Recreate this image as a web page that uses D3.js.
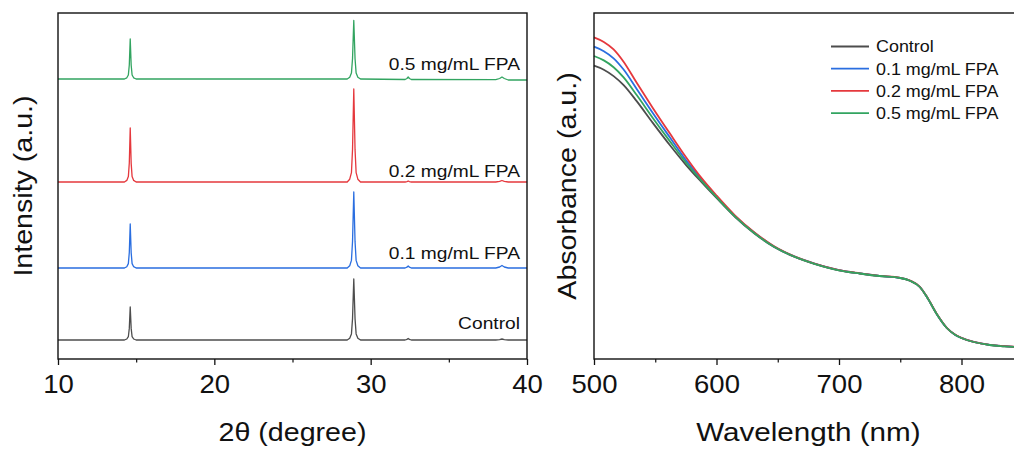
<!DOCTYPE html>
<html><head><meta charset="utf-8">
<script src="https://cdn.jsdelivr.net/npm/d3@7"></script>
<style>
html,body{margin:0;padding:0;background:#fff;}
text{font-family:"Liberation Sans",Arial,sans-serif;fill:#111;}
</style></head>
<body>
<svg id="chart" width="1014" height="450"></svg>
<script>
// ---------- Data: XRD (left) ----------
const seriesNames = ["Control", "0.1 mg/mL FPA", "0.2 mg/mL FPA", "0.5 mg/mL FPA"];
const seriesColors = ["#4d4d4d", "#2a6ee0", "#e5383d", "#32a460"];
const xrdTheta = [10, 14.25, 14.4, 14.5, 14.56, 14.62, 14.68, 14.74, 14.84, 15.0,
  28.5, 28.66, 28.77, 28.84, 28.92, 29.0, 29.07, 29.18, 29.35,
  32.2, 32.32, 32.4, 32.48, 32.6, 38.0, 38.25, 38.4, 38.55, 38.8, 40];
const xrdControl = [19, 19, 20, 22.3, 30.6, 52, 30.6, 22.3, 20, 19,
  19, 20.8, 25.1, 40.4, 80, 40.4, 25.1, 20.8, 19,
  19, 19.6, 20.5, 19.6, 19, 19, 19.4, 20, 19.4, 19, 19];
const xrd01 = [91, 91, 92.3, 95.4, 106.4, 135, 106.4, 95.4, 92.3, 91,
  91, 93.3, 98.6, 117.6, 167, 117.6, 98.6, 93.3, 91,
  91, 91.8, 93, 91.8, 91, 91, 92, 93.5, 92, 91, 91];
const xrd02 = [177, 177, 178.6, 182.4, 195.9, 231, 195.9, 182.4, 178.6, 177,
  177, 179.8, 186.3, 209.6, 270, 209.6, 186.3, 179.8, 177,
  177, 177.4, 178, 177.4, 177, 177, 177.6, 178.5, 177.6, 177, 177];
const xrd05 = [280, 280, 281.2, 284, 294, 320, 294, 284, 281.2, 280,
  280, 281.8, 285.9, 300.5, 338.5, 300.5, 285.9, 281.8, 280,
  279.5, 280.5, 282, 280.5, 279.5, 279.3, 280.5, 282, 280.5, 279, 279];
const xrdTicks = [10, 20, 30, 40];
const xrdMinor = [15, 25, 35];

// ---------- Data: Absorbance (right) ----------
const wl = [500, 508, 516, 524, 535, 548, 562, 575, 588, 600, 615, 631, 647, 664, 680,
  700, 717, 733, 750, 758, 766, 772, 780, 788, 795, 800, 810, 823, 835, 850];
const absControl = [2.933, 2.893, 2.829, 2.741, 2.576, 2.361, 2.137, 1.942, 1.766, 1.61, 1.422, 1.255, 1.12, 1.02, 0.952,
  0.887, 0.855, 0.83, 0.81, 0.782, 0.72, 0.615, 0.445, 0.31, 0.24, 0.21, 0.17, 0.14, 0.127, 0.115];
const abs01 = [3.123, 3.078, 3.007, 2.897, 2.698, 2.461, 2.215, 1.989, 1.793, 1.627, 1.432, 1.262, 1.125, 1.023, 0.953,
  0.888, 0.856, 0.831, 0.811, 0.783, 0.721, 0.616, 0.446, 0.311, 0.241, 0.211, 0.171, 0.141, 0.128, 0.116];
const abs02 = [3.217, 3.171, 3.096, 2.975, 2.759, 2.511, 2.254, 2.02, 1.806, 1.635, 1.437, 1.265, 1.127, 1.024, 0.954,
  0.889, 0.857, 0.832, 0.812, 0.784, 0.722, 0.617, 0.447, 0.312, 0.242, 0.212, 0.172, 0.142, 0.129, 0.117];
const abs05 = [3.03, 2.986, 2.918, 2.819, 2.637, 2.411, 2.176, 1.965, 1.779, 1.618, 1.427, 1.258, 1.122, 1.021, 0.952,
  0.887, 0.855, 0.83, 0.81, 0.782, 0.72, 0.615, 0.445, 0.31, 0.24, 0.21, 0.17, 0.14, 0.127, 0.115];
const wlTicks = [500, 600, 700, 800];
const wlMinor = [550, 650, 750, 850];

// ---------- Layout ----------
const svg = d3.select("#chart");
const plotTop = 13, plotBottom = 359;
const L = {x0: 58, x1: 527};
const R = {x0: 594};

const xL = d3.scaleLinear().domain([10, 40]).range([L.x0, L.x1]);
const yL = d3.scaleLinear().domain([0, 346]).range([plotBottom, plotTop]);
const xR = d3.scaleLinear().domain([500, 850]).range([R.x0, R.x0 + 350 * 1.225]);
const yR = d3.scaleLinear().domain([0, 3.46]).range([plotBottom, plotTop]);

function label(g, x, y, str, size, anchor, rot, sx) {
  return g.append("text")
    .attr("transform", `translate(${x},${y})` + (rot ? ` rotate(${rot})` : "") + ` scale(${sx},1)`)
    .attr("text-anchor", anchor)
    .attr("font-size", size)
    .text(str);
}

function drawAxis(scale, major, minor, fmt) {
  const g = svg.append("g").attr("transform", `translate(0,${plotBottom})`);
  g.call(d3.axisBottom(scale).tickValues(major).tickSize(6).tickSizeOuter(0).tickPadding(10).tickFormat(fmt))
    .call(s => s.select(".domain").remove());
  g.selectAll(".tick line").attr("stroke", "#111").attr("stroke-width", 1.3);
  g.selectAll(".tick text").attr("font-size", 25).attr("font-family", "Liberation Sans, Arial, sans-serif")
    .attr("fill", "#111").attr("transform", "scale(1.1,1)");
  const m = svg.append("g").attr("transform", `translate(0,${plotBottom})`);
  m.call(d3.axisBottom(scale).tickValues(minor).tickSize(3.5).tickFormat(""))
    .call(s => s.select(".domain").remove());
  m.selectAll(".tick line").attr("stroke", "#111").attr("stroke-width", 1.2);
}

// ---------- Left panel ----------
const xrdSeries = [xrdControl, xrd01, xrd02, xrd05];
const lineL = d3.line().x((d, i) => xL(xrdTheta[i])).y(d => yL(d));
xrdSeries.forEach((s, k) => {
  svg.append("path").datum(s).attr("d", lineL)
    .attr("fill", "none").attr("stroke", seriesColors[k]).attr("stroke-width", 1.3)
    .attr("stroke-linejoin", "round");
});
svg.append("rect").attr("x", L.x0).attr("y", plotTop).attr("width", L.x1 - L.x0).attr("height", plotBottom - plotTop)
  .attr("fill", "none").attr("stroke", "#111").attr("stroke-width", 1.4);
drawAxis(xL, xrdTicks, xrdMinor, d3.format("d"));
const labelOffsets = [11, 9, 5, 9];
xrdSeries.forEach((s, k) => {
  label(svg, 520, yL(s[0]) - labelOffsets[k], seriesNames[k], 17, "end", 0, 1.13);
});
label(svg, (L.x0 + L.x1) / 2, 441, "2θ (degree)", 26, "middle", 0, 1.1);
label(svg, 32, (plotTop + plotBottom) / 2, "Intensity (a.u.)", 26, "middle", -90, 1.1);

// ---------- Right panel ----------
const absSeries = [absControl, abs01, abs02, abs05];
const lineR = d3.line().x((d, i) => xR(wl[i])).y(d => yR(d)).curve(d3.curveMonotoneX);
absSeries.forEach((s, k) => {
  svg.append("path").datum(s).attr("d", lineR)
    .attr("fill", "none").attr("stroke", seriesColors[k]).attr("stroke-width", 1.8);
});
svg.append("rect").attr("x", R.x0).attr("y", plotTop).attr("width", xR(850) - R.x0).attr("height", plotBottom - plotTop)
  .attr("fill", "none").attr("stroke", "#111").attr("stroke-width", 1.4);
drawAxis(xR, wlTicks, wlMinor, d3.format("d"));
label(svg, (R.x0 + xR(850)) / 2, 441, "Wavelength (nm)", 26, "middle", 0, 1.14);
label(svg, 576, (plotTop + plotBottom) / 2, "Absorbance (a.u.)", 26, "middle", -90, 1.1);

// legend
const lg = svg.append("g");
seriesNames.forEach((n, k) => {
  const y = 46.5 + k * 22.2;
  lg.append("line").attr("x1", 831).attr("x2", 869).attr("y1", y).attr("y2", y)
    .attr("stroke", seriesColors[k]).attr("stroke-width", 1.8);
  label(lg, 876, y + 5.8, n, 16, "start", 0, 1.12);
});
</script>
</body></html>
